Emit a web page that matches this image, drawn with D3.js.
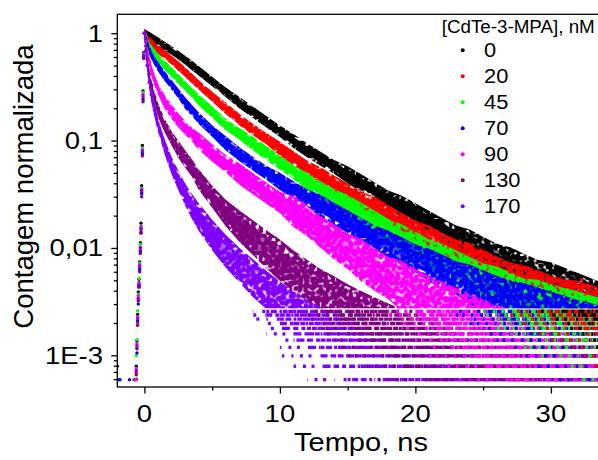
<!DOCTYPE html>
<html><head><meta charset="utf-8">
<script src="https://cdn.jsdelivr.net/npm/d3@7"></script>
<style>body{margin:0;background:#fff;} svg{display:block;font-family:"Liberation Sans",Arial,sans-serif;}</style>
</head><body><svg id="c" width="598" height="460"></svg>
<script>
// ---------- data ----------
const seriesNames = ["0","20","45","70","90","130","170"];
const seriesColors = ["#000000","#ff0000","#00ff00","#0000ff","#ff00ff","#800080","#8000ff"];
const times = [0,0.1,0.2,0.35,0.5,0.75,1,1.25,1.5,2,2.5,3,3.5,4,5,6,7,8,9,10,11,12,13,14,15,16,17,18,19,20,21,22,23,24,25,26,27,28,29,30,31,32,33,33.6];
// band centre values (normalized counts)
const mid0 = [1,0.982,0.964,0.938,0.912,0.871,0.832,0.794,0.759,0.692,0.624,0.562,0.501,0.447,0.355,0.282,0.226,0.184,0.150,0.122,0.0989,0.0813,0.0676,0.0569,0.0479,0.0403,0.0339,0.0285,0.0240,0.0204,0.0174,0.0148,0.0127,0.0110,0.00944,0.00813,0.00708,0.00617,0.00543,0.00479,0.00427,0.00380,0.00339,0.00316];
const mid20 = [1,0.948,0.900,0.855,0.813,0.759,0.708,0.668,0.631,0.562,0.495,0.437,0.380,0.331,0.257,0.200,0.157,0.127,0.104,0.0841,0.0684,0.0562,0.0468,0.0394,0.0331,0.0279,0.0234,0.0197,0.0166,0.0141,0.0120,0.0102,0.00891,0.00776,0.00668,0.00582,0.00513,0.00452,0.00403,0.00363,0.00331,0.00302,0.00275,0.00257];
const mid45 = [1,0.916,0.839,0.762,0.708,0.646,0.589,0.543,0.501,0.437,0.376,0.324,0.279,0.240,0.184,0.141,0.116,0.0944,0.0767,0.0624,0.0507,0.0417,0.0347,0.0292,0.0245,0.0207,0.0174,0.0146,0.0123,0.0105,0.00891,0.00759,0.00661,0.00575,0.00501,0.00437,0.00385,0.00339,0.00309,0.00282,0.00257,0.00240,0.00219,0.00209];
const mid70 = [1,0.891,0.804,0.708,0.631,0.550,0.490,0.442,0.398,0.331,0.275,0.224,0.191,0.162,0.123,0.0944,0.0750,0.0610,0.0501,0.0417,0.0347,0.0292,0.0245,0.0207,0.0176,0.0150,0.0127,0.0108,0.00933,0.00804,0.00692,0.00603,0.00525,0.00457,0.00403,0.00359,0.00320,0.00288,0.00263,0.00240,0.00219,0.00200,0.00186,0.00178];
const mid90 = [1,0.832,0.692,0.550,0.457,0.363,0.302,0.260,0.229,0.186,0.155,0.132,0.114,0.0989,0.0767,0.0610,0.0490,0.0398,0.0324,0.0266,0.0219,0.0180,0.0141,0.0115,0.00933,0.00767,0.00631,0.00525,0.00442,0.00372,0.00316,0.00269,0.00234,0.00204,0.00182,0.00162,0.00148,0.00135,0.00124,0.00115,0.00107,0.00100,0.000933,0.000891];
const mid130 = [1,0.759,0.575,0.417,0.331,0.245,0.195,0.162,0.138,0.105,0.0832,0.0676,0.0556,0.0437,0.0300,0.0212,0.0160,0.0125,0.0097,0.0077,0.0061,0.0050,0.0041,0.0035,0.00295,0.00255,0.00222,0.00195,0.00174,0.00157,0.00143,0.00131,0.00121,0.00112,0.00105,0.00098,0.00092,0.00087,0.00082,0.00078,0.00075,0.00072,0.00069,0.00068];
const mid170 = [1,0.692,0.501,0.347,0.269,0.191,0.141,0.110,0.0871,0.0589,0.0427,0.0316,0.0245,0.0195,0.0132,0.00933,0.00692,0.00525,0.00407,0.00324,0.00263,0.00219,0.00186,0.00158,0.00138,0.00120,0.00107,0.000955,0.000871,0.000794,0.000724,0.000676,0.000631,0.000589,0.000562,0.000537,0.000513,0.000490,0.000479,0.000468,0.000457,0.000447,0.000437,0.000437];
// band half-width (multiplicative factor)
const spread0 = [1.06,1.06,1.06,1.06,1.06,1.06,1.06,1.06,1.06,1.06,1.06,1.06,1.07,1.07,1.07,1.07,1.09,1.09,1.09,1.09,1.12,1.12,1.12,1.12,1.16,1.16,1.16,1.16,1.23,1.23,1.23,1.23,1.23,1.30,1.30,1.30,1.38,1.38,1.38,1.48,1.48,1.48,1.48,1.48];
const spread20 = [1.06,1.06,1.06,1.06,1.06,1.06,1.06,1.06,1.06,1.06,1.07,1.07,1.07,1.07,1.07,1.09,1.09,1.09,1.09,1.12,1.12,1.12,1.16,1.16,1.16,1.16,1.23,1.23,1.23,1.23,1.30,1.30,1.30,1.38,1.38,1.38,1.38,1.48,1.48,1.48,1.48,1.58,1.58,1.58];
const spread45 = [1.06,1.06,1.06,1.06,1.06,1.06,1.06,1.06,1.07,1.07,1.07,1.07,1.07,1.09,1.09,1.09,1.09,1.12,1.12,1.12,1.12,1.16,1.16,1.16,1.23,1.23,1.23,1.23,1.30,1.30,1.30,1.38,1.38,1.38,1.38,1.48,1.48,1.48,1.58,1.58,1.58,1.58,1.58,1.58];
const spread70 = [1.06,1.06,1.06,1.06,1.06,1.06,1.07,1.07,1.07,1.07,1.07,1.09,1.09,1.09,1.09,1.12,1.12,1.12,1.12,1.16,1.16,1.16,1.23,1.23,1.23,1.23,1.23,1.30,1.30,1.30,1.38,1.38,1.38,1.48,1.48,1.48,1.48,1.58,1.58,1.58,1.58,1.58,1.58,1.58];
const spread90 = [1.08,1.08,1.08,1.08,1.09,1.09,1.09,1.09,1.12,1.12,1.12,1.12,1.12,1.16,1.16,1.16,1.21,1.21,1.21,1.21,1.35,1.35,1.35,1.41,1.41,1.52,1.52,1.52,1.66,1.66,1.66,1.75,1.75,1.75,1.75,1.75,1.75,1.75,1.75,1.75,1.75,1.75,1.75,1.75];
const spread130 = [1.08,1.08,1.08,1.09,1.09,1.12,1.12,1.12,1.12,1.12,1.16,1.16,1.16,1.20,1.22,1.28,1.35,1.40,1.45,1.50,1.50,1.50,1.50,1.50,1.50,1.50,1.50,1.50,1.50,1.50,1.50,1.50,1.50,1.50,1.50,1.50,1.50,1.50,1.50,1.50,1.50,1.50,1.50,1.50];
const spread170 = [1.08,1.08,1.09,1.09,1.12,1.12,1.12,1.12,1.14,1.16,1.19,1.22,1.26,1.30,1.34,1.37,1.40,1.45,1.45,1.45,1.45,1.45,1.45,1.45,1.45,1.45,1.45,1.45,1.45,1.45,1.45,1.45,1.45,1.45,1.45,1.45,1.45,1.45,1.45,1.45,1.45,1.45,1.45,1.45];
// rising edge (before the peak)
const riseTimes = [-0.6,-0.55,-0.5,-0.45,-0.4,-0.35,-0.3,-0.25,-0.2,-0.15,-0.1,-0.05];
const rise0 = [0.00079,0.00137,0.00240,0.00390,0.00510,0.0074,0.0112,0.0170,0.0380,0.090,0.29,0.66];
const rise20 = [0.00069,0.00118,0.00200,0.00330,0.00450,0.0066,0.0095,0.0148,0.0330,0.078,0.25,0.61];
const rise45 = [0.00099,0.00140,0.00260,0.00370,0.00520,0.0072,0.0108,0.0160,0.0360,0.085,0.28,0.64];
const rise70 = [0.00060,0.00105,0.00210,0.00300,0.00440,0.0063,0.0092,0.0140,0.0320,0.075,0.24,0.60];
const rise90 = [0.00075,0.00130,0.00230,0.00360,0.00480,0.0070,0.0102,0.0158,0.0355,0.082,0.27,0.63];
const rise130 = [0.00066,0.00115,0.00190,0.00320,0.00430,0.0060,0.0089,0.0137,0.0300,0.072,0.23,0.58];
const rise170 = [0.00072,0.00124,0.00220,0.00340,0.00460,0.0068,0.0100,0.0152,0.0345,0.080,0.26,0.62];
// quantized photon-count levels visible at the bottom (3, 4, ... 13 counts)
const countLevels = [5.93e-4,7.91e-4,9.89e-4,1.187e-3,1.385e-3,1.582e-3,1.78e-3,1.978e-3,2.176e-3,2.374e-3,2.571e-3];
const countNumbers = [3,4,5,6,7,8,9,10,11,12,13];
// isolated points
const strayT = [-2.0,-1.95,-1.8,-1.1,-0.8,-0.72,-0.62,32.3];
const strayV = [7.91e-4,5.93e-4,5.93e-4,5.93e-4,5.93e-4,5.93e-4,5.93e-4,0.00509];
const strayS = [0,3,3,3,2,1,4,1];
// axes
const xTickValues = [0,10,20,30];
const xTickLabels = ["0","10","20","30"];
const xMinorTicks = [5,15,25];
const yTickValues = [1,0.1,0.01,0.001];
const yTickLabels = ["1","0,1","0,01","1E-3"];
const xTitle = "Tempo, ns";
const yTitle = "Contagem normalizada";
const legendTitle = "[CdTe-3-MPA], nM";

const mids = [mid0,mid20,mid45,mid70,mid90,mid130,mid170];
const spreads = [spread0,spread20,spread45,spread70,spread90,spread130,spread170];
const rises = [rise0,rise20,rise45,rise70,rise90,rise130,rise170];

// ---------- layout ----------
const L = 117.3, T = 14.3, B = 387;
const dotR = 1.7;
const x = d3.scaleLinear().domain([-2, 36]).range([L, L + 38 * 13.55]);
const y = d3.scaleLog().domain([5.07e-4, 1.5]).range([B, T]);
const svg = d3.select("#c");
const defs = svg.append("defs");
defs.append("clipPath").attr("id","plotClip").append("rect").attr("x",L).attr("y",T).attr("width",600).attr("height",B-T);
const bandFloor = 2.75e-3;
defs.append("clipPath").attr("id","bandClip").append("rect").attr("x",L).attr("y",T).attr("width",600).attr("height",y(bandFloor)-T);

// speckle texture (round blobs ~ dot size) so that the bands read as clouds of dots
seriesNames.forEach((n,s) => {
  const f = defs.append("filter").attr("id","speck"+s).attr("filterUnits","userSpaceOnUse")
    .attr("x",L).attr("y",T).attr("width",520).attr("height",B-T);
  f.append("feTurbulence").attr("type","fractalNoise").attr("baseFrequency",0.4).attr("numOctaves",1).attr("seed",5+s*13).attr("result","noise");
  f.append("feColorMatrix").attr("in","noise").attr("type","matrix")
    .attr("values","0 0 0 0 0  0 0 0 0 0  0 0 0 0 0  12 0 0 0 -5.75").attr("result","peaks");
  f.append("feGaussianBlur").attr("in","peaks").attr("stdDeviation",0.9).attr("result","soft");
  f.append("feColorMatrix").attr("in","soft").attr("type","matrix")
    .attr("values","0 0 0 0 0  0 0 0 0 0  0 0 0 0 0  0 0 0 5 -0.7").attr("result","mask");
  f.append("feComposite").attr("in","SourceGraphic").attr("in2","mask").attr("operator","in");
});

const plot = svg.append("g").attr("clip-path","url(#plotClip)");
const coreDens = v => v > 0.03 ? 1 : v > 0.012 ? 0.9 : v > 0.006 ? 0.55 : 0.25;
const patterns = {dense:"8 0.8 5 0.6 12 1 6 0.7", medium:"4 1.5 6 2.5 3 2 8 3", sparse:"3 4 2.5 7 3 9"};
const unitV = countLevels[0] / countNumbers[0];

const allPts = seriesNames.map((name, s) => times.map((t,i) => ({t, m: mids[s][i], sp: spreads[s][i], lo: mids[s][i]/spreads[s][i], hi: mids[s][i]*spreads[s][i]})));

// quantized rows at the bottom: drawn first, slowest-decaying series last so colours mix
const rowsLayer = plot.append("g");
d3.range(seriesNames.length - 1, -1, -1).forEach(s => {
  const col = seriesColors[s], pts = allPts[s];
  countLevels.forEach((lv, k) => {
    const n = countNumbers[k];
    for (let i = 0; i < pts.length - 1; i++) {
      const a = pts[i], b = pts[i+1];
      const mu = Math.sqrt(a.m * b.m) / unitV;
      if (n < mu - 2.6*Math.sqrt(mu) || n > mu + 2.6*Math.sqrt(mu)) continue;
      const z = Math.abs(n - mu) / Math.sqrt(mu);
      const pat = z < 0.8 ? patterns.dense : z < 1.6 ? patterns.medium : patterns.sparse;
      rowsLayer.append("line").attr("x1",x(a.t)).attr("x2",x(b.t)).attr("y1",y(lv)).attr("y2",y(lv))
        .attr("stroke",col).attr("stroke-width",3.3).attr("stroke-dasharray",pat)
        .attr("stroke-dashoffset",(s*7 + k*3 + i*5) % 23);
    }
  });
});

seriesNames.forEach((name, s) => {
  const col = seriesColors[s], pts = allPts[s];
  const g = defs.append("linearGradient").attr("id","grad"+s).attr("gradientUnits","userSpaceOnUse")
    .attr("x1",x(0)).attr("x2",x(33.6)).attr("y1",0).attr("y2",0);
  pts.forEach(p => g.append("stop").attr("offset",(x(p.t)-x(0))/(x(33.6)-x(0))).attr("stop-color",col).attr("stop-opacity",coreDens(p.m)));
  const gs = plot.append("g");
  const bandG = gs.append("g").attr("clip-path","url(#bandClip)");
  // speckled cloud over the full scatter width (point centres + dot radius)
  bandG.append("path").datum(pts)
    .attr("d", d3.area().x(d=>x(d.t)).y0(d=>y(d.lo)+dotR).y1(d=>y(d.hi)-dotR))
    .attr("fill",col).attr("filter","url(#speck"+s+")");
  // dense core of the scatter
  bandG.append("path").datum(pts)
    .attr("d", d3.area().x(d=>x(d.t)).y0(d=>y(d.m/Math.pow(d.sp,0.55))+dotR*0.6).y1(d=>y(d.m*Math.pow(d.sp,0.55))-dotR*0.6))
    .attr("fill","url(#grad"+s+")");
  bandG.selectAll("circle").data(pts).join("circle")
    .attr("cx",d=>x(d.t)).attr("cy",d=>y(d.m)).attr("r",dotR).attr("fill",col);
  // rising edge
  gs.append("g").selectAll("circle").data(riseTimes.map((t,i)=>({t,v:rises[s][i]})))
    .join("circle").attr("cx",d=>x(d.t)).attr("cy",d=>y(d.v)).attr("r",dotR).attr("fill",col);
});
plot.append("g").selectAll("circle").data(strayT.map((t,i)=>({t,v:strayV[i],s:strayS[i]})))
  .join("circle").attr("cx",d=>x(d.t)).attr("cy",d=>y(d.v)).attr("r",dotR).attr("fill",d=>seriesColors[d.s]);

// ---------- frame & axes ----------
svg.append("rect").attr("x",L).attr("y",T).attr("width",560).attr("height",B-T)
  .attr("fill","none").attr("stroke","#000").attr("stroke-width",1.3);
const xAx = svg.append("g").attr("transform",`translate(0,${B})`)
  .call(d3.axisBottom(x).tickValues(xTickValues).tickSize(6.5).tickFormat(""));
const xMin = svg.append("g").attr("transform",`translate(0,${B})`)
  .call(d3.axisBottom(x).tickValues(xMinorTicks).tickSize(3.5).tickFormat(""));
const yMinorVals = [];
[-4,-3,-2,-1].forEach(e => { for (let m = 2; m <= 9; m++) { const v = m*Math.pow(10,e); if (v > 5.07e-4) yMinorVals.push(v); } });
const yAx = svg.append("g").attr("transform",`translate(${L},0)`)
  .call(d3.axisLeft(y).tickValues(yTickValues).tickSize(6).tickFormat(""));
const yMin = svg.append("g").attr("transform",`translate(${L},0)`)
  .call(d3.axisLeft(y).tickValues(yMinorVals).tickSize(3.5).tickFormat(""));
[xAx,xMin,yAx,yMin].forEach(a => { a.select(".domain").remove(); a.selectAll("line").attr("stroke","#000").attr("stroke-width",1.3); });

// horizontally stretched text (the figure's lettering is wider than plain Arial)
function stext(px, py, txt, size, k, anchor) {
  return svg.append("text").attr("transform",`translate(${px},${py}) scale(${k},1)`)
    .attr("text-anchor",anchor).attr("font-size",size).attr("fill","#000").text(txt);
}
xTickValues.forEach((v,i) => stext(x(v), 421.7, xTickLabels[i], 23.5, 1.17, "middle"));
yTickValues.forEach((v,i) => stext(103, y(v) + 8.3, yTickLabels[i], 23.5, 1.17, "end"));
stext(361, 451, xTitle, 25.5, 1.14, "middle");
svg.append("text").attr("transform","translate(33,186.5) rotate(-90)").attr("text-anchor","middle").attr("font-size",27.5).text(yTitle);

// ---------- legend ----------
stext(441.7, 32.7, legendTitle, 18.8, 1.0, "start");
seriesNames.forEach((n,i) => {
  const by = 57.3 + 26*i;
  svg.append("circle").attr("cx",462.7).attr("cy",by-7).attr("r",2).attr("fill",seriesColors[i]);
  stext(484, by, n, 19.5, 1.12, "start");
});
</script></body></html>
